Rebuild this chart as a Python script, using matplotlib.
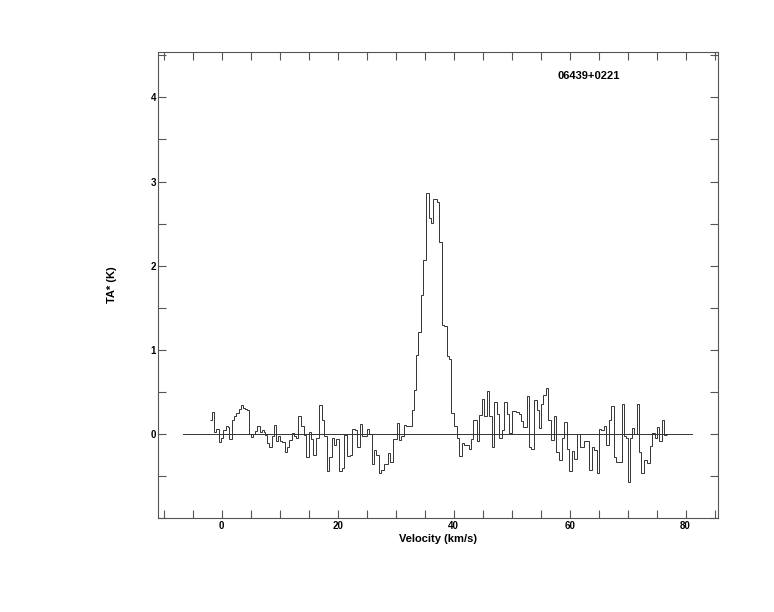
import matplotlib
matplotlib.use("Agg")
import matplotlib.pyplot as plt
from matplotlib.ticker import MultipleLocator

# Channel start velocities (km/s) and antenna temperatures (K)
vel_start = [
    -2.07, -1.67, -1.33, -0.91, -0.52, -0.17, 0.22, 0.69, 1.03, 1.33,
    1.78, 2.12, 2.53, 2.93, 3.33, 3.74, 4.09, 4.31, 4.71, 5.12,
    5.47, 5.81, 6.16, 6.55, 6.90, 7.24, 7.53, 7.81, 8.22, 8.62,
    8.97, 9.36, 9.78, 10.05, 10.47, 10.86, 11.26, 11.60, 12.07, 12.41,
    12.81, 13.22, 13.74, 14.19, 14.60, 15.00, 15.40, 15.81, 16.33, 16.72,
    17.36, 17.59, 18.16, 18.50, 19.02, 19.43, 19.78, 20.22, 20.81, 21.16,
    21.60, 22.07, 22.47, 22.93, 23.36, 23.76, 24.19, 25.03, 25.43, 25.91,
    26.21, 26.64, 27.07, 27.53, 27.93, 28.67, 29.10, 29.62, 30.21, 30.57,
    30.98, 31.38, 31.72, 32.81, 33.19, 33.59, 33.93, 34.31, 34.74, 35.29,
    35.74, 36.16, 36.50, 37.12, 37.53, 37.93, 38.33, 38.79, 39.14, 39.60,
    40.00, 40.57, 40.91, 41.38, 41.78, 42.59, 42.93, 43.36, 44.02, 44.36,
    44.88, 45.29, 45.69, 46.16, 46.60, 46.95, 47.41, 47.88, 48.33, 48.74,
    49.19, 49.53, 50.05, 50.81, 51.21, 51.55, 51.95, 52.67, 53.05, 53.40,
    53.79, 54.31, 54.66, 55.05, 55.48, 55.91, 56.29, 56.72, 57.29, 57.72,
    58.10, 58.74, 59.02, 59.53, 59.83, 60.40, 60.74, 61.26, 61.72, 62.41,
    62.88, 63.33, 63.84, 64.26, 64.71, 65.05, 65.40, 65.86, 66.33, 66.78,
    67.19, 67.64, 68.05, 68.97, 69.36, 69.78, 70.05, 70.34, 70.74, 71.09,
    71.60, 71.95, 72.36, 72.81, 73.33, 73.79, 74.19, 74.66, 75.05, 75.40,
    75.91, 76.26,
]
vel_end = 76.78

ta_values = [
    0.17, 0.26, 0.02, 0.06, -0.10, -0.05, 0.05, 0.09, 0.08, -0.06,
    0.16, 0.21, 0.25, 0.29, 0.34, 0.31, 0.30, 0.28, 0.00, -0.04,
    0.00, 0.03, 0.09, 0.02, 0.05, 0.02, -0.01, -0.11, -0.16, -0.03,
    0.11, -0.09, -0.02, -0.08, -0.10, -0.22, -0.15, -0.07, 0.01, -0.03,
    -0.05, 0.21, 0.09, -0.01, -0.28, 0.02, -0.06, -0.25, -0.05, 0.34,
    0.17, -0.02, -0.44, -0.28, -0.05, -0.13, -0.06, -0.44, -0.41, -0.01,
    -0.26, -0.25, 0.06, 0.05, -0.15, 0.12, -0.03, 0.06, 0.00, -0.36,
    -0.19, -0.25, -0.47, -0.43, -0.36, -0.23, -0.34, -0.06, 0.13, -0.07,
    -0.03, 0.11, 0.09, 0.28, 0.52, 0.94, 1.21, 1.65, 2.07, 2.86,
    2.57, 2.51, 2.79, 2.76, 2.28, 1.29, 1.28, 0.92, 0.89, 0.25,
    0.09, -0.05, -0.26, -0.11, -0.13, -0.18, -0.06, 0.17, -0.08, 0.23,
    0.41, 0.21, 0.51, 0.21, -0.15, 0.38, 0.24, -0.05, 0.05, 0.38,
    0.24, 0.01, 0.27, 0.26, 0.24, 0.15, 0.08, 0.45, -0.15, -0.18,
    0.40, 0.28, 0.07, 0.36, 0.46, 0.55, 0.17, -0.07, 0.21, -0.21,
    -0.31, -0.05, 0.14, -0.18, -0.44, -0.20, -0.30, 0.00, -0.16, -0.08,
    -0.09, -0.43, -0.16, -0.19, -0.47, 0.06, 0.05, 0.09, -0.13, 0.16,
    0.33, -0.28, -0.34, 0.35, -0.03, -0.05, -0.57, -0.05, 0.07, 0.00,
    0.35, -0.21, -0.47, -0.31, -0.35, -0.14, 0.01, -0.05, 0.08, -0.09,
    0.17, -0.01,
]

baseline_range = [-6.7, 81.2]
source_name = "06439+0221"

x_major = [0, 20, 40, 60, 80]
y_major = [0, 1, 2, 3, 4]

plt.rcParams['font.family'] = ['Liberation Sans', 'DejaVu Sans']

fig = plt.figure(figsize=(7.74, 6.12), dpi=100)
ax = fig.add_axes([158/774, 1 - 518/612, 560/774, 466/612])

line_col = '#333333'
edges = vel_start + [vel_end]
ax.stairs(ta_values, edges, baseline=None, color=line_col, linewidth=0.7)
ax.plot(baseline_range, [0, 0], color=line_col, linewidth=0.7)

ax.set_xlim(-11.0, 85.6)
ax.set_ylim(-1.0, 4.54)

ax.set_xticks(x_major)
ax.set_yticks(y_major)
ax.xaxis.set_minor_locator(MultipleLocator(5))
ax.yaxis.set_minor_locator(MultipleLocator(0.5))

frame_col = '#555555'
for sp in ax.spines.values():
    sp.set_color(frame_col)
    sp.set_linewidth(0.8)

ax.tick_params(which='both', direction='in', top=True, right=True,
               length=6, width=0.8, color=frame_col)
ax.tick_params(axis='x', which='major', pad=2.5)
ax.tick_params(axis='y', which='major', pad=1.5)
for lab in ax.get_xticklabels() + ax.get_yticklabels():
    lab.set_fontsize(7)
    lab.set_fontweight('bold')

ax.set_xlabel("Velocity (km/s)", fontsize=8, fontweight='bold')
ax.xaxis.set_label_coords(0.5, -0.035)
ax.set_ylabel("TA* (K)", fontsize=8, fontweight='bold')
ax.yaxis.set_label_coords(-0.073, 0.5)

ax.text(0.7125, 0.948, source_name, transform=ax.transAxes,
        fontsize=8, fontweight='bold', ha='left', va='center')

fig.savefig("out.png", dpi=100)
